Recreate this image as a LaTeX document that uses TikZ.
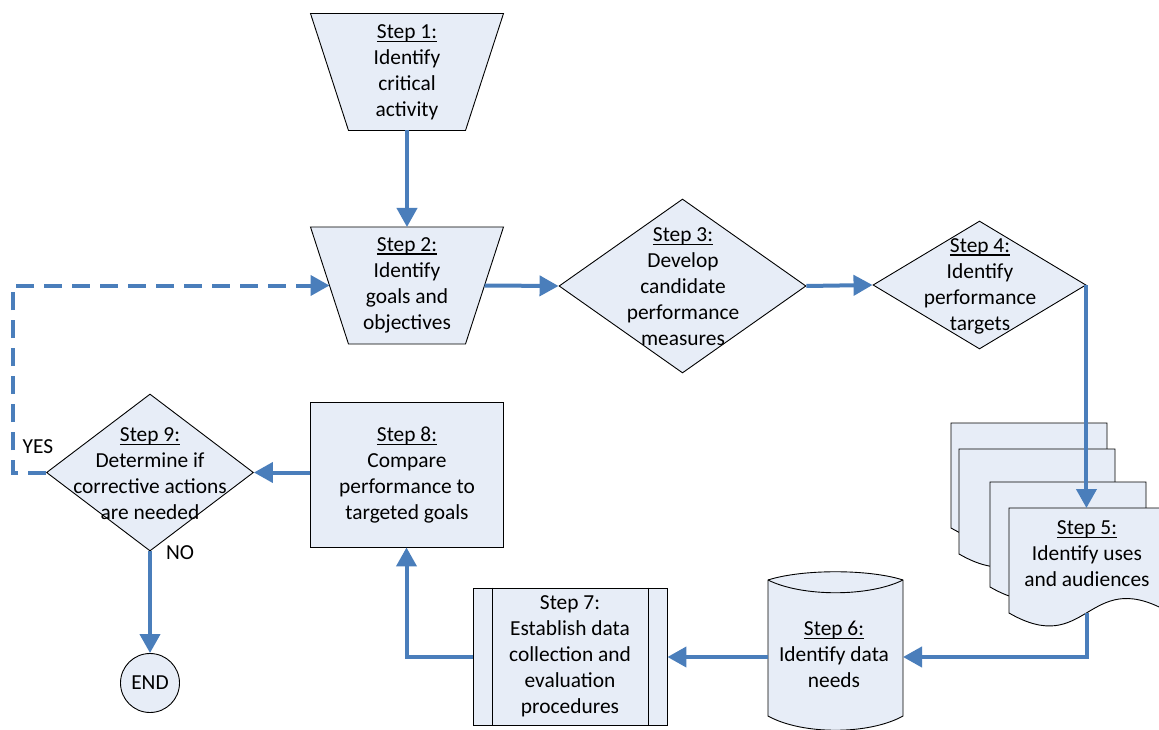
\documentclass[tikz,border=0pt]{standalone}
\usepackage{fontspec}
\setmainfont{Carlito}
\usetikzlibrary{arrows.meta,shapes.geometric,calc}
\definecolor{flowblue}{RGB}{74,126,187}
\definecolor{shapefill}{RGB}{231,237,247}
\newcommand\stepul[1]{\setbox0\hbox{#1}\rlap{\vrule height -2.3pt depth 3.6pt width \wd0}\box0}
\newcommand\mydocpage[2]{%
  \draw[shp] (#1,#2) -- ({#1+156},#2) -- ({#1+156},{#2+102})
    .. controls ({#1+78},{#2+60}) and ({#1+78},{#2+150}) .. (#1,{#2+105}) -- cycle;}
\begin{document}
\begin{tikzpicture}[x=1pt,y=-1pt,
  shp/.style={draw=black, line width=0.9pt, fill=shapefill},
  anchorbox/.style={draw=none, fill=none, inner sep=0pt, outer sep=0pt},
  lbl/.style={align=center, inner sep=0pt, text=black, font=\fontsize{21.4pt}{26pt}\selectfont},
  flow/.style={draw=flowblue, line width=4pt, -{Triangle[length=19pt,width=20pt]}},
  flowdash/.style={draw=flowblue, line width=4pt, dash pattern=on 18pt off 10pt, -{Triangle[length=19pt,width=20pt]}}]
\useasboundingbox (0,0) rectangle (1159,730);
\fill[white] (0,0) rectangle (1159,730);
\clip (0,0) rectangle (1159,730);

% Step 1 and Step 2 (trapezoids)
\node[anchorbox, minimum width=193pt, minimum height=117pt] (s1) at (407,72) {};
\draw[shp] (s1.north west) -- (s1.north east) -- ($(s1.south east)+(-38,0)$) -- ($(s1.south west)+(38,0)$) -- cycle;
\node[lbl] (t1) at (407,72) {\stepul{Step 1:}\\Identify\\critical\\activity};

\node[anchorbox, minimum width=193pt, minimum height=117pt] (s2) at (407,285.5) {};
\draw[shp] (s2.north west) -- (s2.north east) -- ($(s2.south east)+(-38,0)$) -- ($(s2.south west)+(38,0)$) -- cycle;
\node[lbl] (t2) at (407,285) {\stepul{Step 2:}\\Identify\\goals and\\objectives};

% Step 3 and Step 4 (diamonds)
\node[shp, diamond, minimum width=247pt, minimum height=174pt, inner sep=0pt] (s3) at (682.5,286) {};
\node[lbl] (t3) at (683,286.5) {\stepul{Step 3:}\\Develop\\candidate\\performance\\measures};

\node[shp, diamond, minimum width=213pt, minimum height=128pt, inner sep=0pt] (s4) at (979.5,285) {};
\node[lbl] (t4) at (980,286) {\stepul{Step 4:}\\Identify\\performance\\targets};

% Step 5 (multiple documents)
\mydocpage{951}{423}
\mydocpage{959}{449}
\mydocpage{990}{482}
\mydocpage{1009}{508}
\node[anchorbox, minimum width=156pt, minimum height=105pt] (d5) at (1087,560.5) {};
\node[lbl] (t5) at (1087,554) {\stepul{Step 5:}\\Identify uses\\and audiences};

% Step 6 (cylinder)
\draw[shp] (768,580) .. controls (802,569) and (869,569) .. (903,580) -- (903,716)
  .. controls (869,735) and (802,735) .. (768,716) -- cycle;
\draw[black, line width=0.9pt] (768,580) .. controls (802,597) and (869,597) .. (903,580);
\coordinate (s6e) at (903,657);
\coordinate (s6w) at (768,657);
\node[lbl] (t6) at (834,654.5) {\stepul{Step 6:}\\Identify data\\needs};

% Step 7 (predefined process)
\node[shp, rectangle, minimum width=194pt, minimum height=137pt, inner sep=0pt] (s7) at (570,656.5) {};
\draw[black, line width=0.9pt] ($(s7.north west)+(20,0)$) -- ($(s7.south west)+(20,0)$);
\draw[black, line width=0.9pt] ($(s7.north east)+(-19,0)$) -- ($(s7.south east)+(-19,0)$);
\node[lbl] (t7) at (570,656) {Step 7:\\Establish data\\collection and\\evaluation\\procedures};

% Step 8 (rectangle)
\node[shp, rectangle, minimum width=193pt, minimum height=145pt, inner sep=0pt] (s8) at (406.5,474.5) {};
\node[lbl] (t8) at (407,475) {\stepul{Step 8:}\\Compare\\performance to\\targeted goals};

% Step 9 (diamond)
\node[shp, diamond, minimum width=207pt, minimum height=157pt, inner sep=0pt] (s9) at (150,472.5) {};
\node[lbl] (t9) at (150,473.5) {\stepul{Step 9:}\\Determine if\\corrective actions\\are needed};

% END
\node[shp, circle, minimum size=59pt, inner sep=0pt] (end) at (150,683) {};
\node[lbl] (tend) at (150,683) {END};

% labels
\node[lbl] (yes) at (38,447) {YES};
\node[lbl] (no) at (180,553) {NO};

% connectors
\draw[flow] (s1.south) -- (s2.north);
\draw[flow] ($(s2.east)+(-19,0)$) -- (s3.west);
\draw[flow] (s3.east) -- (s4.west);
\draw[flow] (s4.east) -- (s4.east |- d5.north);
\draw[flow] (d5.south) |- (s6e);
\draw[flow] (s6w) -- (s6w -| s7.east);
\draw[flow] (s7.west) -| (s8.south);
\draw[flow] (s9.east -| s8.west) -- (s9.east);
\draw[flow] (s9.south) -- (end.north);
\draw[flowdash] (s9.west) -- ++(-33.5,0) |- ($(s2.west)+(19,0)$);
\end{tikzpicture}
\end{document}
